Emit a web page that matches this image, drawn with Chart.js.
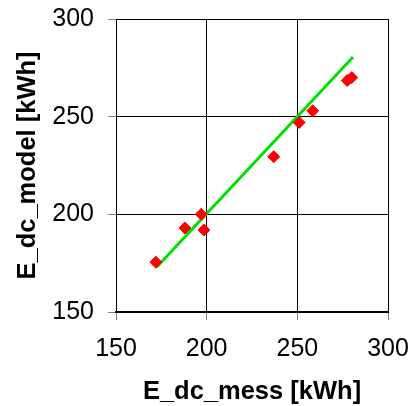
<!DOCTYPE html>
<html>
<head>
<meta charset="utf-8">
<script src="https://cdn.jsdelivr.net/npm/chart.js@4"></script>
<style>
html,body{margin:0;padding:0;background:#fff;}
#wrap{width:414px;height:406px;}
</style>
</head>
<body>
<div id="wrap"><canvas id="c" width="414" height="406"></canvas></div>
<script>
// Measured (x) vs model (y) energy values
const measured = [172, 188, 197, 198.5, 237, 251, 258.5, 277.5, 280];
const model = [175.5, 193, 200, 192, 229.5, 247, 253, 268.5, 270];
// Fit line endpoints
const fitX = [172.5, 280.7];
const fitY = [173, 280.5];
const xTicks = [150, 200, 250, 300];
const yTicks = [150, 200, 250, 300];
const xTitle = 'E_dc_mess [kWh]';
const yTitle = 'E_dc_model [kWh]';

const scatterPts = measured.map((x, i) => ({x: x, y: model[i]}));
const linePts = fitX.map((x, i) => ({x: x, y: fitY[i]}));

const tickFont = {family: '"Liberation Sans", Arial, sans-serif', size: 25};
const titleFont = {family: '"Liberation Sans", Arial, sans-serif', size: 25.5, weight: 'bold', lineHeight: 1.1};

new Chart(document.getElementById('c'), {
  type: 'scatter',
  data: {
    datasets: [
      {
        data: scatterPts,
        pointStyle: 'rectRot',
        pointRadius: 6,
        pointBackgroundColor: '#ff0000',
        pointBorderColor: '#ff0000',
        borderWidth: 1,
        showLine: false
      },
      {
        data: linePts,
        showLine: true,
        borderColor: '#00e000',
        borderWidth: 3,
        pointRadius: 0,
        fill: false
      }
    ]
  },
  options: {
    responsive: false,
    animation: false,
    devicePixelRatio: 1,
    layout: {padding: {top: 19, right: 26, left: 0, bottom: 0}},
    plugins: {legend: {display: false}, tooltip: {enabled: false}},
    scales: {
      x: {
        type: 'linear',
        min: 150, max: 300,
        afterBuildTicks: s => { s.ticks = xTicks.map(v => ({value: v})); },
        afterFit: s => { s.height = 94; s.paddingLeft = 0; s.paddingRight = 0; },
        ticks: {font: tickFont, color: '#000', padding: 14, maxRotation: 0},
        grid: {color: '#000', lineWidth: 1, tickLength: 8, tickColor: '#808080'},
        border: {color: '#000', width: 2},
        title: {display: true, text: xTitle, font: titleFont, color: '#000', padding: {top: 0, bottom: 0}}
      },
      y: {
        type: 'linear',
        min: 150, max: 300,
        afterBuildTicks: s => { s.ticks = yTicks.map(v => ({value: v})); },
        afterFit: s => { s.width = 116; s.paddingTop = 0; s.paddingBottom = 0; },
        ticks: {font: tickFont, color: '#000', padding: 14},
        grid: {color: '#000', lineWidth: 1, tickLength: 8, tickColor: '#808080'},
        border: {color: '#000', width: 1},
        title: {display: true, text: yTitle, font: titleFont, color: '#000', padding: {top: 14, bottom: 0}}
      }
    }
  }
});
</script>
</body>
</html>
